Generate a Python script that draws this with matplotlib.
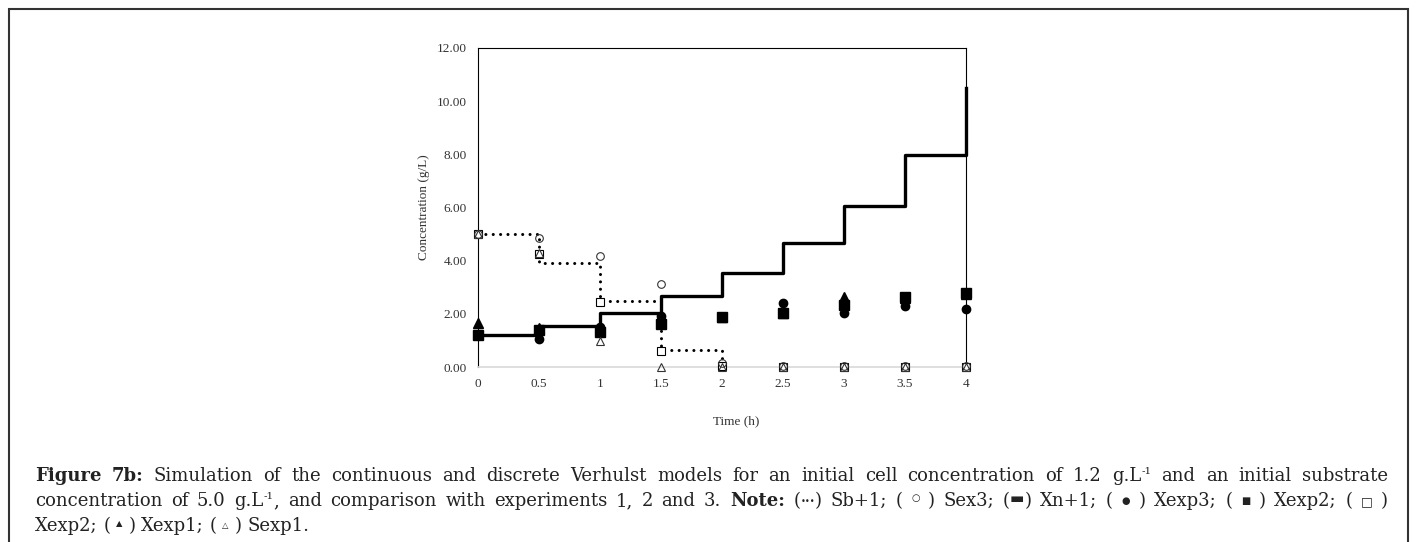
import matplotlib.pyplot as plt
from matplotlib.patches import Rectangle

# ---- data ----
time = [0, 0.5, 1, 1.5, 2, 2.5, 3, 3.5, 4]
sb_time = [0, 0.5, 1, 1.5, 2]
sb_sim = [5.0, 3.92, 2.49, 0.64, 0.1]          # Sb+1 (dotted step)
xn_sim = [1.2, 1.54, 2.04, 2.67, 3.55, 4.65, 6.07, 7.99, 10.51]  # Xn+1 (solid step)
sex3 = [5.0, 4.86, 4.17, 3.11, 0.15, 0.02, 0.02, 0.02, 0.02]
xexp3 = [1.2, 1.05, 1.5, 1.93, 1.87, 2.39, 2.02, 2.31, 2.18]
xexp2 = [1.2, 1.39, 1.3, 1.6, 1.87, 2.02, 2.33, 2.62, 2.77]
sexp2 = [5.0, 4.24, 2.46, 0.6, 0.05, 0.0, 0.0, 0.0, 0.0]
xexp1 = [1.67, 1.45, 1.5, 1.93, 1.87, 2.05, 2.64, 2.6, 2.75]
sexp1 = [5.0, 4.3, 0.99, 0.0, 0.0, 0.0, 0.0, 0.0, 0.0]

x_ticks = [0, 0.5, 1, 1.5, 2, 2.5, 3, 3.5, 4]
x_ticklabels = ["0", "0.5", "1", "1.5", "2", "2.5", "3", "3.5", "4"]
y_ticks = [0, 2, 4, 6, 8, 10, 12]

W, H = 1416, 542
fig = plt.figure(figsize=(W / 100, H / 100), dpi=100)
serif = ["Liberation Serif", "DejaVu Sans"]
capfont = ["DejaVu Serif", "DejaVu Sans"]

# outer frame of the figure panel
fig.patches.append(Rectangle((9 / W, -0.02), 1399 / W, 1 - 9 / H + 0.02,
                             transform=fig.transFigure, fill=False,
                             edgecolor="#333333", linewidth=1.5))

ax = fig.add_axes([478 / W, 1 - 367 / H, 488 / W, 319 / H])
ax.plot(sb_time, sb_sim, drawstyle="steps-post", color="black", lw=2.2,
        linestyle=(0, (0.01, 2.4)), dash_capstyle="round", zorder=2)
ax.plot(time, xn_sim, drawstyle="steps-post", color="black", lw=2.4,
        zorder=2)

ax.plot(time, xexp3, "o", color="black", ms=6, zorder=3)
ax.plot(time, xexp2, "s", color="black", ms=6.5, zorder=3)
ax.plot(time, xexp1, "^", color="black", ms=6.5, zorder=3)
ax.plot(time, sexp2, "s", mfc="white", mec="black", mew=0.8, ms=5.5, zorder=4)
ax.plot(time, sex3, "o", mfc="none", mec="#333333", mew=0.8, ms=5.5, zorder=4)
ax.plot(time, sexp1, "^", mfc="none", mec="#333333", mew=0.8, ms=5.5, zorder=4)

ax.set_xlim(0, 4)
ax.set_ylim(0, 12)
ax.set_xticks(x_ticks)
ax.set_xticklabels(x_ticklabels)
ax.set_yticks(y_ticks)
ax.set_yticklabels(["%.2f" % v for v in y_ticks])
ax.tick_params(length=0, labelsize=9.5, labelcolor="#333333", pad=8)
for lab in ax.get_xticklabels() + ax.get_yticklabels():
    lab.set_family(serif)
for s in ["left", "top", "right"]:
    ax.spines[s].set_color("black")
    ax.spines[s].set_linewidth(0.8)
ax.spines["bottom"].set_color("#d9d9d9")
ax.spines["bottom"].set_linewidth(1.2)
for ln in ax.lines:
    ln.set_clip_on(False)

fig.text(424 / W, 1 - 207 / H, "Concentration (g/L)", rotation=90,
         ha="center", va="center", fontsize=9.5, family=serif, color="#333333")
fig.text(736 / W, 1 - 421 / H, "Time (h)", ha="center", va="center",
         fontsize=9.5, family=serif, color="#333333")

# ---- caption, laid out word by word so lines can be justified ----
FS = 13
norm = dict(fontsize=FS, family=capfont)
bold = dict(fontsize=FS, family=capfont, fontweight="bold")
sup = dict(fontsize=7.5, family=capfont)


def sym(size):
    return dict(fontsize=size, family=["DejaVu Sans"])


def w(text, props=norm, dy=0):
    return [(text, props, dy)]


line1 = [w("Figure", bold), w("7b:", bold)] + \
    [w(t) for t in "Simulation of the continuous and discrete Verhulst models "
     "for an initial cell concentration of 1.2".split()] + \
    [[("g.L", norm, 0), ("-1", sup, 7)]] + \
    [w(t) for t in "and an initial substrate".split()]
line2 = [w(t) for t in "concentration of 5.0".split()] + \
    [[("g.L", norm, 0), ("-1", sup, 7), (",", norm, 0)]] + \
    [w(t) for t in "and comparison with experiments 1, 2 and 3.".split()] + \
    [w("Note:", bold), [("(", norm, 0), ("•••", sym(6), 2), (")", norm, 0)],
     w("Sb+1;"), w("("), w("○", sym(7), 5), w(")"), w("Sex3;"),
     [("(", norm, 0), ("▬", sym(11), 3), (")", norm, 0)], w("Xn+1;"),
     w("("), w("●", sym(7), 2), w(")"), w("Xexp3;"),
     w("("), w("■", sym(7), 2), w(")"), w("Xexp2;"),
     w("("), w("□", sym(9), 1), w(")")]
line3 = [w("Xexp2;"), w("("), w("▲", sym(6), 5), w(")"), w("Xexp1;"),
         w("("), w("△", sym(6), 3), w(")"), w("Sexp1.")]

renderer = fig.canvas.get_renderer()


def seg_width(text, props):
    t = fig.text(0, 0, text, **props)
    wd = t.get_window_extent(renderer).width
    t.remove()
    return wd


space = seg_width("a a", norm) - seg_width("aa", norm)
x_left, x_right = 35, 1388
for words, base, justify in [(line1, 481, True), (line2, 506, True),
                             (line3, 531, False)]:
    widths = [[seg_width(t, p) for t, p, _ in word] for word in words]
    total = sum(sum(ws) for ws in widths)
    gap = (x_right - x_left - total) / (len(words) - 1) if justify else space
    x = x_left
    for word, ws in zip(words, widths):
        for (t, p, dy), sw in zip(word, ws):
            fig.text(x / W, 1 - (base - dy) / H, t, ha="left",
                     va="baseline", color="#222222", **p)
            x += sw
        x += gap

fig.savefig("out.png", dpi=100)
